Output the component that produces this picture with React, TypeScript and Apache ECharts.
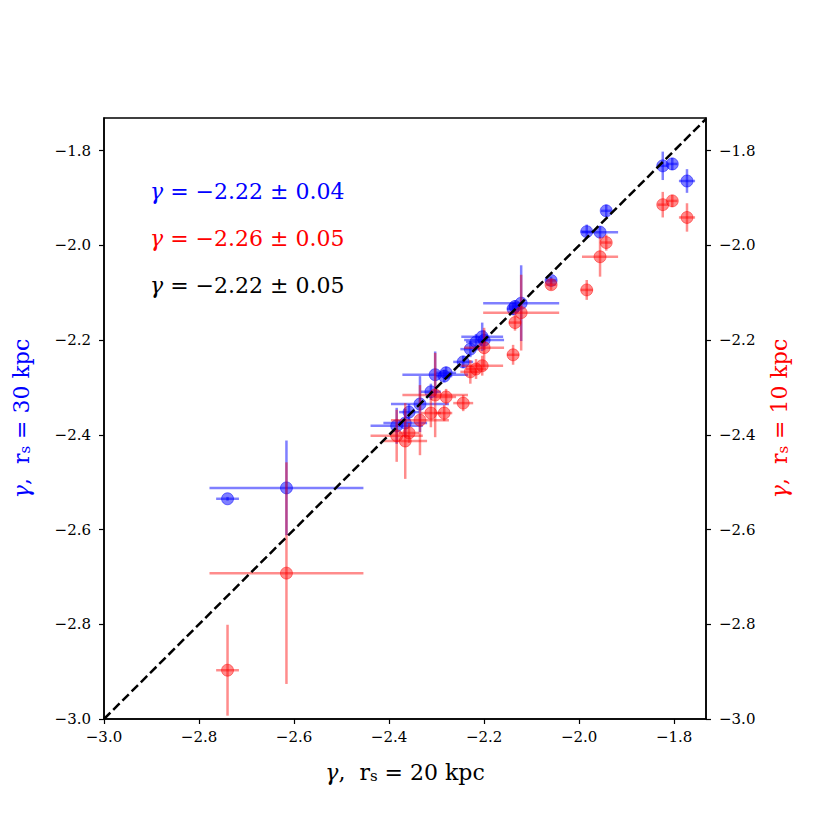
import React, { useEffect, useRef } from "react";
import * as echarts from "echarts";

// gamma measured with r_s = 20 kpc (x axis) and its error
const gamma20 = [-2.740, -2.616, -2.384, -2.366, -2.358, -2.335, -2.312, -2.303, -2.280, -2.284, -2.244, -2.229, -2.217, -2.204, -2.200, -2.139, -2.135, -2.122, -2.059, -1.984, -1.956, -1.943, -1.824, -1.804, -1.773];
const gamma20Err = [0.024, 0.162, 0.055, 0.046, 0.021, 0.061, 0.021, 0.069, 0.021, 0.017, 0.021, 0.021, 0.021, 0.044, 0.042, 0.013, 0.013, 0.080, 0.011, 0.013, 0.038, 0.011, 0.011, 0.011, 0.017];
// gamma with r_s = 30 kpc (blue, left axis)
const gamma30 = [-2.535, -2.512, -2.381, -2.375, -2.352, -2.335, -2.309, -2.273, -2.269, -2.276, -2.246, -2.219, -2.204, -2.193, -2.200, -2.134, -2.129, -2.122, -2.074, -1.971, -1.972, -1.927, -1.832, -1.828, -1.864];
const gamma30Err = [0.004, 0.100, 0.038, 0.030, 0.017, 0.059, 0.017, 0.049, 0.013, 0.013, 0.013, 0.017, 0.017, 0.030, 0.021, 0.013, 0.013, 0.080, 0.008, 0.015, 0.013, 0.013, 0.030, 0.013, 0.025];
// gamma with r_s = 10 kpc (red, right axis)
const gamma10 = [-2.897, -2.692, -2.402, -2.413, -2.396, -2.369, -2.354, -2.316, -2.320, -2.354, -2.333, -2.267, -2.261, -2.254, -2.216, -2.231, -2.163, -2.142, -2.083, -2.094, -2.024, -1.994, -1.914, -1.906, -1.941];
const gamma10Err = [0.096, 0.234, 0.055, 0.080, 0.021, 0.074, 0.030, 0.089, 0.017, 0.017, 0.017, 0.025, 0.021, 0.021, 0.042, 0.021, 0.017, 0.080, 0.011, 0.021, 0.042, 0.017, 0.027, 0.013, 0.030];

const fitResults = ["−2.22 ± 0.04", "−2.26 ± 0.05", "−2.22 ± 0.05"];
const axisMin = -3.0;
const axisMaxX = -1.733;
const axisMaxY = -1.731;
const tickStep = 0.2;
const xLabel = "{g|γ},  r{s|s} = 20 kpc";
const yLeftLabel = "{g|γ},  r{s|s} = 30 kpc";
const yRightLabel = "{g|γ},  r{s|s} = 10 kpc";

const FONT = "DejaVu Serif";
const BLUE = "#0000ff";
const RED = "#ff0000";

const fmt = (v: number) => v.toFixed(1).replace("-", "−");

function richFor(color: string, size: number) {
  return {
    g: { fontStyle: "italic", fontFamily: FONT, fontSize: size, color },
    s: { fontFamily: FONT, fontSize: Math.round(size * 0.7), lineHeight: 10, verticalAlign: "bottom", color },
  };
}

function errRender(color: string) {
  return (params: any, api: any) => {
    const x = api.value(0);
    const y = api.value(1);
    const xe = api.value(2);
    const ye = api.value(3);
    const l = api.coord([x - xe, y]);
    const r = api.coord([x + xe, y]);
    const t = api.coord([x, y + ye]);
    const b = api.coord([x, y - ye]);
    const style = { stroke: color, lineWidth: 2.5, fill: null };
    return {
      type: "group",
      children: [
        { type: "line", shape: { x1: l[0], y1: l[1], x2: r[0], y2: r[1] }, style },
        { type: "line", shape: { x1: t[0], y1: t[1], x2: b[0], y2: b[1] }, style },
      ],
    };
  };
}

export default function App() {
  const ref = useRef<HTMLDivElement>(null);

  useEffect(() => {
    document.body.style.margin = "0";
    if (!ref.current) return;
    const chart = echarts.init(ref.current, undefined, { renderer: "svg" });

    const blueErr = gamma20.map((x, i) => [x, gamma30[i], gamma20Err[i], gamma30Err[i]]);
    const redErr = gamma20.map((x, i) => [x, gamma10[i], gamma20Err[i], gamma10Err[i]]);
    const bluePts = gamma20.map((x, i) => [x, gamma30[i]]);
    const redPts = gamma20.map((x, i) => [x, gamma10[i]]);

    const tickLabel = { fontFamily: FONT, fontSize: 15, color: "#000" };

    chart.setOption({
      animation: false,
      backgroundColor: "#fff",
      textStyle: { fontFamily: FONT },
      grid: {
        left: 104,
        top: 118,
        width: 602,
        height: 601,
        show: true,
        borderColor: "#000",
        borderWidth: 1.5,
        backgroundColor: "transparent",
      },
      xAxis: {
        type: "value",
        min: axisMin,
        max: axisMaxX,
        interval: tickStep,
        splitLine: { show: false },
        axisLine: { show: true, onZero: false, lineStyle: { color: "#000", width: 1.5 } },
        axisTick: { show: true, length: 5, lineStyle: { color: "#000", width: 1.2 } },
        axisLabel: { ...tickLabel, margin: 10, formatter: fmt, showMaxLabel: false, showMinLabel: true },
        name: xLabel,
        nameLocation: "middle",
        nameGap: 42,
        nameTextStyle: { fontFamily: FONT, fontSize: 22, color: "#000", rich: richFor("#000", 22) },
      },
      yAxis: [
        {
          type: "value",
          position: "left",
          min: axisMin,
          max: axisMaxY,
          interval: tickStep,
          splitLine: { show: false },
          axisLine: { show: true, onZero: false, lineStyle: { color: "#000", width: 1.5 } },
          axisTick: { show: true, length: 5, lineStyle: { color: "#000", width: 1.2 } },
          axisLabel: { ...tickLabel, margin: 13, formatter: fmt, showMaxLabel: false, showMinLabel: true },
          name: yLeftLabel,
          nameLocation: "middle",
          nameRotate: 90,
          nameGap: 72,
          nameTextStyle: { fontFamily: FONT, fontSize: 22, color: BLUE, rich: richFor(BLUE, 22) },
        },
        {
          type: "value",
          position: "right",
          min: axisMin,
          max: axisMaxY,
          interval: tickStep,
          splitLine: { show: false },
          axisLine: { show: true, onZero: false, lineStyle: { color: "#000", width: 1.5 } },
          axisTick: { show: true, length: 5, lineStyle: { color: "#000", width: 1.2 } },
          axisLabel: { ...tickLabel, margin: 13, formatter: fmt, showMaxLabel: false, showMinLabel: true },
          name: yRightLabel,
          nameLocation: "middle",
          nameRotate: 90,
          nameGap: 62,
          nameTextStyle: { fontFamily: FONT, fontSize: 22, color: RED, rich: richFor(RED, 22) },
        },
      ],
      graphic: fitResults.map((t, i) => ({
        type: "text",
        left: 150,
        top: 180 + i * 47,
        z: 100,
        style: {
          text: "{g|γ} = " + t,
          fill: [BLUE, RED, "#000"][i],
          font: "22px " + FONT,
          rich: {
            g: { fontStyle: "italic", fontFamily: FONT, fontSize: 22, fill: [BLUE, RED, "#000"][i] },
          },
        },
      })),
      series: [
        {
          type: "custom",
          name: "err30",
          data: blueErr,
          encode: { x: 0, y: 1 },
          renderItem: errRender("rgba(0,0,255,0.5)"),
          z: 2,
          silent: true,
        },
        {
          type: "scatter",
          name: "r30",
          data: bluePts,
          symbol: "circle",
          symbolSize: 12,
          itemStyle: { color: "rgba(0,0,255,0.5)", borderColor: "rgba(0,0,255,0.5)", borderWidth: 1, opacity: 1 },
          z: 3,
          silent: true,
        },
        {
          type: "custom",
          name: "err10",
          data: redErr,
          encode: { x: 0, y: 1 },
          renderItem: errRender("rgba(255,0,0,0.45)"),
          z: 4,
          silent: true,
        },
        {
          type: "scatter",
          name: "r10",
          data: redPts,
          symbol: "circle",
          symbolSize: 12,
          itemStyle: { color: "rgba(255,0,0,0.45)", borderColor: "rgba(255,0,0,0.45)", borderWidth: 1, opacity: 1 },
          z: 5,
          silent: true,
        },
        {
          type: "line",
          name: "one-to-one",
          data: [[axisMin, axisMin], [axisMaxX, axisMaxX]],
          symbol: "none",
          lineStyle: { color: "#000", width: 2.5, type: [9, 4] },
          z: 10,
          silent: true,
        },
      ],
    });

    return () => chart.dispose();
  }, []);

  return <div ref={ref} style={{ width: 830, height: 830, position: "absolute", left: 0, top: 0 }} />;
}
